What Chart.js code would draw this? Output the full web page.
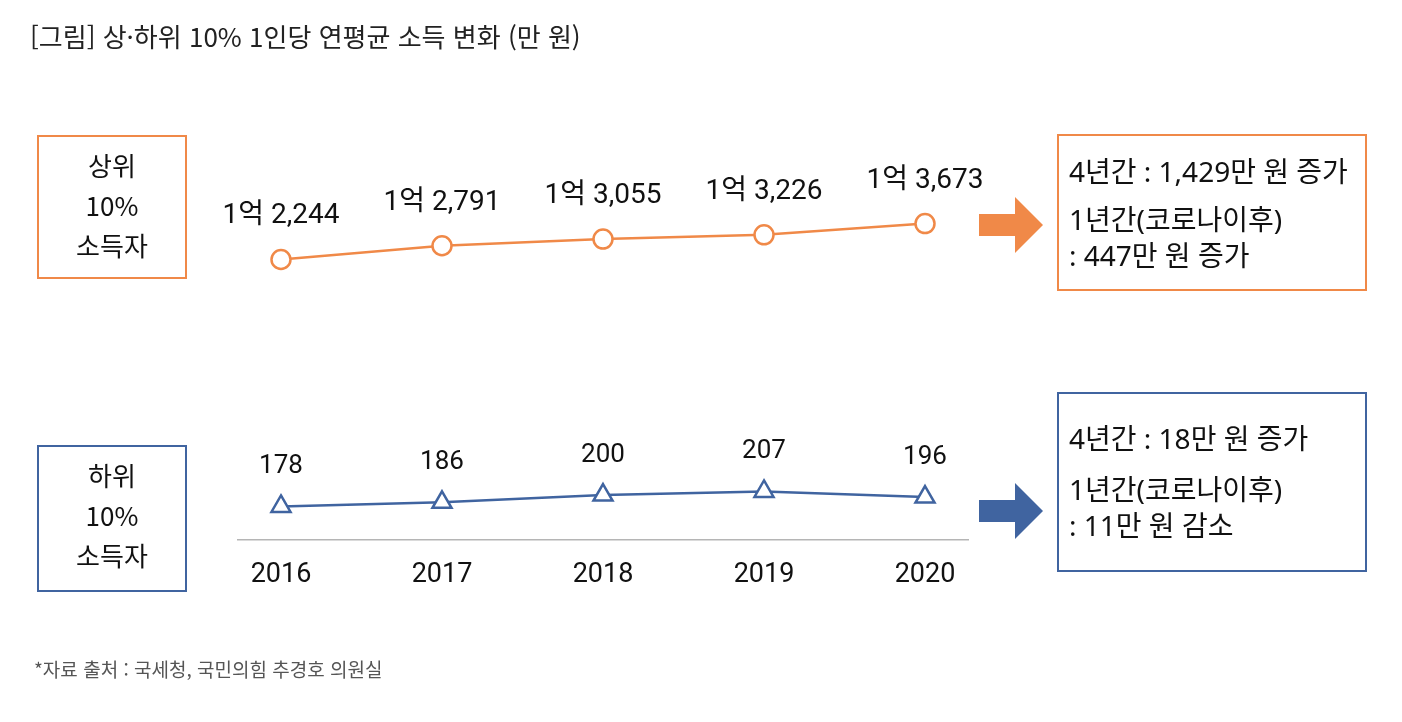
<!DOCTYPE html>
<html lang="ko">
<head>
<meta charset="utf-8">
<script src="https://cdn.jsdelivr.net/npm/chart.js@4.4.1/dist/chart.umd.min.js"></script>
<style>
  body { margin: 0; background: #fff; font-family: "Noto Sans CJK KR", sans-serif; color: #111; }
  #wrap { position: relative; width: 1402px; height: 722px; overflow: hidden; }
  #chart { position: absolute; left: 0; top: 0; }
  .title { position: absolute; left: 30px; top: 17px; font-size: 26px; color: #222; }
  .source { position: absolute; left: 34px; top: 655px; font-size: 19px; color: #555; }
  .tag { position: absolute; left: 37px; width: 146px; text-align: center;
         font-size: 26px; line-height: 40px; padding-top: 8px; }
  .note { position: absolute; left: 1057px; width: 310px; box-sizing: border-box; padding-left: 10px;
          font-family: "Noto Sans", "Noto Sans CJK KR", sans-serif; font-size: 28px; }
  .note p { margin: 0; line-height: 36px; }
  .arrow { position: absolute; left: 979px; width: 64px; height: 56px; }
</style>
</head>
<body>
<div id="wrap">
  <canvas id="chart" width="1402" height="722"></canvas>
  <div class="title">[그림] 상·하위 10% 1인당 연평균 소득 변화 (만 원)</div>

  <div class="tag" style="top:135px;height:132px;border:2.5px solid #F08948;">상위<br>10%<br>소득자</div>
  <div class="tag" style="top:445px;height:135px;border:2.5px solid #4064A0;">하위<br>10%<br>소득자</div>

  <svg class="arrow" style="top:197px" viewBox="0 0 64 56"><polygon points="0,17 36,17 36,0 64,28 36,56 36,39 0,39" fill="#F08948"/></svg>
  <svg class="arrow" style="top:483px" viewBox="0 0 64 56"><polygon points="0,17 36,17 36,0 64,28 36,56 36,39 0,39" fill="#4064A0"/></svg>

  <div class="note" style="top:134px;height:157px;border:2.5px solid #F08948;">
    <p style="margin-top:17px" id="topTotal"></p>
    <p style="margin-top:12px">1년간(코로나이후)</p>
    <p id="topCovid"></p>
  </div>
  <div class="note" style="top:392px;height:180px;border:2.5px solid #4064A0;">
    <p style="margin-top:26px" id="lowTotal"></p>
    <p style="margin-top:15px">1년간(코로나이후)</p>
    <p id="lowCovid"></p>
  </div>

  <div class="source">*자료 출처 : 국세청, 국민의힘 추경호 의원실</div>
</div>
<script>
const years = [2016, 2017, 2018, 2019, 2020];
const top10 = [12244, 12791, 13055, 13226, 13673]; // 만 원
const bottom10 = [178, 186, 200, 207, 196]; // 만 원

const ORANGE = "#F08948";
const BLUE = "#4064A0";

const fmtTop = v => Math.floor(v / 10000) + "억 " + (v % 10000).toLocaleString("en-US");
const change = (a, b) => b - a;

// 오른쪽 박스 문구
const d1 = change(top10[0], top10[4]);
const d2 = change(top10[3], top10[4]);
const d3 = change(bottom10[0], bottom10[4]);
const d4 = change(bottom10[3], bottom10[4]);
document.getElementById("topTotal").innerText = `4년간 : ${d1.toLocaleString("en-US")}만 원 증가`;
document.getElementById("topCovid").innerText = `: ${d2.toLocaleString("en-US")}만 원 증가`;
document.getElementById("lowTotal").innerText = `4년간 : ${d3}만 원 ${d3 >= 0 ? "증가" : "감소"}`;
document.getElementById("lowCovid").innerText = `: ${Math.abs(d4)}만 원 ${d4 >= 0 ? "증가" : "감소"}`;

const valueLabels = {
    id: "valueLabels",
    afterDatasetsDraw(chart) {
        const ctx = chart.ctx;
        ctx.save();
        ctx.fillStyle = "#111";
        ctx.textAlign = "center";
        ctx.textBaseline = "middle";
        chart.data.datasets.forEach((ds, i) => {
            ctx.font = (i === 0 ? "28px" : "26px") + " Roboto, 'Noto Sans CJK KR'";
            chart.getDatasetMeta(i).data.forEach((pt, j) => {
                const v = ds.data[j].y;
                const text = i === 0 ? fmtTop(v) : String(v);
                ctx.fillText(text, pt.x, pt.y - (i === 0 ? 43 : 40));
            });
        });
        ctx.restore();
    }
};

new Chart(document.getElementById("chart").getContext("2d"), {
    type: "line",
    data: {
        datasets: [
            {
                label: "상위 10%",
                data: years.map((y, i) => ({ x: y, y: top10[i] })),
                yAxisID: "yTop",
                borderColor: ORANGE,
                borderWidth: 2.5,
                pointStyle: "circle",
                pointRadius: 9.5,
                pointBorderWidth: 2.5,
                pointBackgroundColor: "#fff",
                pointBorderColor: ORANGE
            },
            {
                label: "하위 10%",
                data: years.map((y, i) => ({ x: y, y: bottom10[i] })),
                yAxisID: "yLow",
                borderColor: BLUE,
                borderWidth: 2.5,
                pointStyle: "triangle",
                pointRadius: 11,
                pointBorderWidth: 2.5,
                pointBackgroundColor: "#fff",
                pointBorderColor: BLUE
            }
        ]
    },
    options: {
        responsive: false,
        animation: false,
        layout: { padding: { left: 238, right: 434, top: 150, bottom: 120 } },
        plugins: { legend: { display: false }, tooltip: { enabled: false } },
        scales: {
            x: {
                type: "linear",
                min: 2015.733,
                max: 2020.267,
                afterBuildTicks: s => { s.ticks = years.map(v => ({ value: v })); },
                ticks: {
                    callback: v => String(v),
                    color: "#111",
                    padding: 11,
                    font: { family: "Roboto, 'Noto Sans CJK KR'", size: 27 }
                },
                grid: { display: false },
                border: { display: true, color: "#b5b5b5", width: 1.5 }
            },
            yTop: { display: false, min: 1100, max: 16600 },
            yLow: { display: false, min: 114, max: 866 }
        }
    },
    plugins: [valueLabels]
});
</script>
</body>
</html>
